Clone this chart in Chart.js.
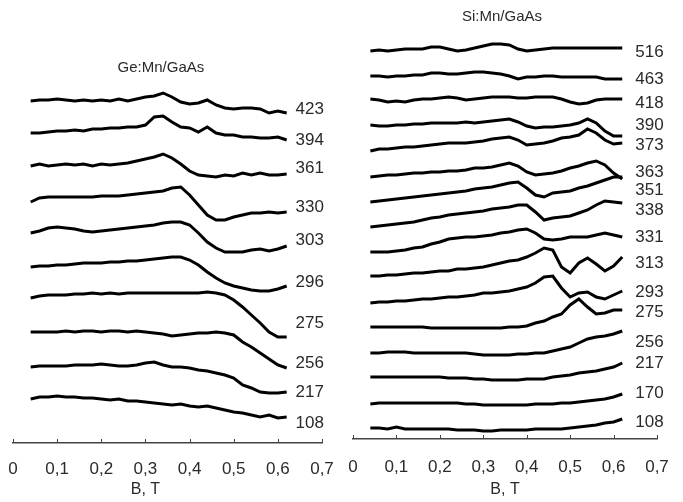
<!DOCTYPE html>
<html>
<head>
<meta charset="utf-8">
<script src="https://cdn.jsdelivr.net/npm/chart.js"></script>
<style>
  body { margin: 0; background: #fff; }
  .box { position: absolute; top: 0; }
  #geBox { left: 0; }
  #siBox { left: 340px; }
</style>
</head>
<body>
<div class="box" id="geBox"><canvas id="ge" width="340" height="502"></canvas></div>
<div class="box" id="siBox"><canvas id="si" width="343" height="502"></canvas></div>
<script>
// magnetic field B, T (same sweep for every trace)
var fieldB = [0.04,0.06,0.08,0.10,0.12,0.14,0.16,0.18,0.20,0.22,0.24,0.26,0.28,0.30,0.32,0.34,0.36,0.38,0.40,0.42,0.44,0.46,0.48,0.50,0.52,0.54,0.56,0.58,0.60,0.62];
var tickB = [0,0.1,0.2,0.3,0.4,0.5,0.6,0.7];

// Ge:Mn/GaAs, traces shifted upward (arb. units)
var geTemps = ['423','394','361','330','303','296','275','256','217','108'];
var ge423 = [342,343,343,344,343,342,343,342,343,342,344,342,344,346,347,350,346,341,339,340,343,338,335,334,335,335,334,330,332,330];
var ge394 = [310,310,311,312,312,313,312,314,314,315,315,316,316,318,326,327,321,316,315,311,316,310,308,308,306,306,305,305,306,303];
var ge361 = [277,279,277,278,279,278,279,277,279,278,279,280,282,284,286,289,285,279,272,268,267,266,268,267,270,268,270,268,268,269];
var ge330 = [241,245,246,246,246,246,246,246,247,247,247,248,249,250,251,252,255,256,248,238,228,223,223,226,228,230,230,231,230,231];
var ge303 = [210,212,215,216,215,214,212,211,212,213,214,215,216,217,218,220,221,221,218,210,201,195,191,191,191,193,194,192,194,197];
var ge296 = [176,177,177,178,178,179,180,180,180,181,181,182,182,183,184,185,186,186,183,178,171,165,160,157,155,153,152,152,154,157];
var ge275 = [145,147,148,148,148,149,149,150,149,150,149,150,150,150,150,150,150,150,150,150,151,150,148,143,136,128,120,111,106,106];
var ge256 = [111,111,111,111,112,111,112,112,111,112,112,111,112,111,110,109,107,108,109,110,110,111,110,108,101,96,90,84,78,75];
var ge217 = [76,77,77,77,77,78,78,78,79,78,77,77,78,80,81,78,76,76,75,73,72,70,68,65,58,55,51,50,50,51];
var ge108 = [44,46,46,47,46,46,45,45,44,43,44,42,42,41,40,39,38,39,37,36,37,35,33,31,30,28,26,28,25,26];
var geLabelY = [334,303,275,236,203,161,120,80,51,20];

// Si:Mn/GaAs
var siTemps = ['516','463','418','390','373','363','351','338','331','313','293','275','256','217','170','108'];
var si516 = [388,389,388,389,390,390,390,392,392,390,388,389,391,393,395,395,394,390,388,389,390,391,391,391,391,391,391,391,391,391];
var si463 = [363,363,362,363,363,364,364,366,366,365,365,366,367,367,366,365,363,360,362,362,363,363,362,362,362,362,362,360,360,360];
var si418 = [340,339,337,338,337,339,340,340,341,342,341,339,340,341,342,342,342,341,341,342,342,342,340,337,335,336,339,340,340,340];
var si390 = [314,313,313,314,314,315,315,316,316,316,316,317,316,317,318,319,320,317,313,311,312,312,313,314,316,320,316,308,303,303];
var si373 = [288,290,290,291,292,292,293,294,295,296,296,296,297,298,300,301,302,299,294,295,296,298,301,302,304,310,306,299,295,296];
var si363 = [262,263,264,264,265,266,266,267,267,268,268,269,271,271,272,274,276,273,267,264,265,266,268,271,273,276,278,274,266,260];
var si351 = [237,238,239,240,241,242,243,244,245,246,247,248,250,251,252,254,256,257,251,244,242,246,247,248,251,253,256,259,262,262];
var si338 = [212,213,214,215,216,217,219,221,222,224,225,226,227,228,230,231,232,234,234,227,219,221,222,223,226,229,234,238,237,236];
var si331 = [187,187,187,188,189,191,192,195,197,200,201,202,202,203,204,206,207,209,210,206,200,199,200,202,202,202,204,206,204,202];
var si313 = [163,163,164,164,165,166,166,167,168,168,170,170,171,172,174,176,178,179,182,186,191,189,172,166,176,181,175,168,173,182];
var si293 = [136,137,137,138,138,139,140,140,141,142,142,143,144,146,146,147,148,150,152,156,162,163,151,142,146,147,142,140,144,148];
var si275 = [112,112,112,112,112,112,112,111,111,111,111,111,111,111,111,111,112,112,113,116,118,122,125,134,140,132,125,126,129,129];
var si256 = [86,86,87,87,87,86,86,86,86,86,86,86,85,84,84,84,84,85,85,86,86,88,90,92,96,100,102,103,105,108];
var si217 = [62,62,62,62,62,62,62,62,62,61,61,61,60,60,59,59,59,59,60,60,60,62,63,64,66,67,68,70,72,76];
var si170 = [35,36,36,36,36,36,36,36,36,36,36,35,35,34,34,34,34,34,34,35,35,35,36,36,37,38,39,40,42,45];
var si108 = [11,11,10,12,10,10,10,10,10,10,9,9,9,8,8,9,9,9,9,10,10,10,10,11,12,13,14,16,17,20];
var siLabelY = [387,360,336,314,294,267,249,229,202,176,147,127,97,76,46,17];

var geSeries = [ge423, ge394, ge361, ge330, ge303, ge296, ge275, ge256, ge217, ge108];
var siSeries = [si516, si463, si418, si390, si373, si363, si351, si338, si331, si313, si293, si275, si256, si217, si170, si108];

var FONT = '"Liberation Sans", Arial, sans-serif';
var NARROW = '"Liberation Sans Narrow", "Liberation Sans", Arial, sans-serif';

// small up-ticks on the B axis, temperature labels, panel title, axis title
var textPlugin = {
  id: 'curveText',
  afterDraw: function (chart) {
    var o = chart.options.plugins.curveText;
    var ctx = chart.ctx, xs = chart.scales.x, ys = chart.scales.y;
    ctx.save();
    ctx.strokeStyle = '#444';
    ctx.lineWidth = 1;
    tickB.forEach(function (b) {
      var px = Math.round(xs.getPixelForValue(b)) + 0.5;
      ctx.beginPath();
      ctx.moveTo(px, xs.top);
      ctx.lineTo(px, xs.top - 4);
      ctx.stroke();
    });
    ctx.fillStyle = '#2a2a2a';
    ctx.textBaseline = 'middle';
    ctx.font = '17px ' + NARROW;
    ctx.textAlign = 'left';
    o.labels.forEach(function (t, i) {
      ctx.fillText(t, xs.getPixelForValue(o.labelX), ys.getPixelForValue(o.labelY[i]));
    });
    ctx.textAlign = 'center';
    ctx.font = '15px ' + FONT;
    ctx.fillText(o.title, xs.getPixelForValue(o.titleX), ys.getPixelForValue(o.titleY));
    ctx.font = '16px ' + FONT;
    ctx.fillText('B, T', xs.getPixelForValue(o.axisTitleX), ys.getPixelForValue(o.axisTitleY));
    ctx.restore();
  }
};

function makeSets(series) {
  return series.map(function (vals) {
    return {
      data: vals.map(function (v, i) { return { x: fieldB[i], y: v }; }),
      borderColor: '#000',
      borderWidth: 3,
      pointRadius: 0,
      tension: 0,
      fill: false
    };
  });
}

function bAxis(opts) {
  return {
    type: 'linear',
    min: 0,
    max: 0.7,
    afterFit: function (s) {
      s.height = opts.axisHeight;
      s.paddingLeft = opts.left;
      s.paddingRight = opts.right;
    },
    afterBuildTicks: function (s) { s.ticks = tickB.map(function (v) { return { value: v }; }); },
    border: { display: true, color: '#444', width: 1.5 },
    grid: { drawOnChartArea: false, drawTicks: false },
    ticks: {
      padding: opts.tickPad,
      color: '#2a2a2a',
      maxRotation: 0,
      autoSkip: false,
      font: { family: NARROW, size: 17 },
      callback: function (v) { return v === 0 ? '0' : v.toFixed(1).replace('.', ','); }
    }
  };
}

function panel(id, series, opts) {
  return new Chart(document.getElementById(id), {
    type: 'line',
    data: { datasets: makeSets(series) },
    options: {
      responsive: false,
      animation: false,
      layout: { padding: { left: 0, right: 0, top: opts.top, bottom: 0 } },
      scales: {
        x: bAxis(opts),
        y: { display: false, min: 0, max: opts.yMax }
      },
      plugins: {
        legend: { display: false },
        tooltip: { enabled: false },
        curveText: opts.text
      }
    },
    plugins: [textPlugin]
  });
}

var chartGe = panel('ge', geSeries, {
  top: 40, left: 13, right: 18, axisHeight: 59, tickPad: 16, yMax: 403,
  text: { labels: geTemps, labelY: geLabelY, labelX: 0.64, title: 'Ge:Mn/GaAs', titleX: 0.335, titleY: 375, axisTitleX: 0.30, axisTitleY: -47 }
});

var chartSi = panel('si', siSeries, {
  top: 39, left: 13, right: 26, axisHeight: 63, tickPad: 18, yMax: 400,
  text: { labels: siTemps, labelY: siLabelY, labelX: 0.65, title: 'Si:Mn/GaAs', titleX: 0.343, titleY: 422, axisTitleX: 0.35, axisTitleY: -51 }
});
</script>
</body>
</html>
